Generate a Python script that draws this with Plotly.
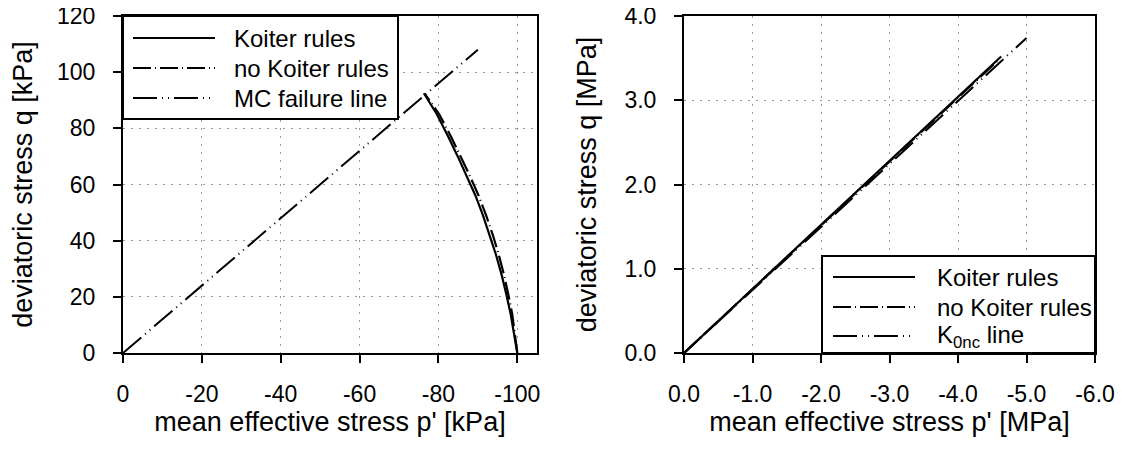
import plotly.graph_objects as go

# ---------------- data (left: kPa) ----------------
koiter_p = [-100, -99.2, -98.3, -97.2, -96.0, -94.6, -93.0, -91.3, -89.4, -87.2, -84.9, -82.5, -79.6, -76.3]
koiter_q = [0, 7, 14, 21, 28, 35, 42, 49, 56, 63, 70, 77, 85, 92.5]
nokoiter_p = [-100, -99.4, -98.7, -97.7, -96.6, -95.3, -93.8, -92.1, -90.2, -88.0, -85.7, -83.2, -80.2, -76.6]
nokoiter_q = [0, 7, 14, 21, 28, 35, 42, 49, 56, 63, 70, 77, 85, 92.2]
mc_p = [0, -90]
mc_q = [0, 108]

# ---------------- data (right: MPa) ----------------
r_koiter_p = [0, -4.63]
r_koiter_q = [0, 3.52]
r_nokoiter_p = [0, -4.58]
r_nokoiter_q = [0, 3.47]
k0_p = [0, -5.0]
k0_q = [0, 3.74]

# ---------------- ticks ----------------
left_xvals = [0, -20, -40, -60, -80, -100]
left_xtext = ["0", "-20", "-40", "-60", "-80", "-100"]
left_yvals = [0, 20, 40, 60, 80, 100, 120]
left_ytext = ["0", "20", "40", "60", "80", "100", "120"]
right_xvals = [0, -1, -2, -3, -4, -5, -6]
right_xtext = ["0.0", "-1.0", "-2.0", "-3.0", "-4.0", "-5.0", "-6.0"]
right_yvals = [0, 1, 2, 3, 4]
right_ytext = ["0.0", "1.0", "2.0", "3.0", "4.0"]

left_legend = ["Koiter rules", "no Koiter rules", "MC failure line"]
right_legend = ["Koiter rules", "no Koiter rules", "K<sub>0nc</sub> line"]

# page body has an 8px margin, so the figure is 8px smaller than the window
OFF = 8
W, H = 1127 - OFF, 450 - OFF
FONT = "Liberation Sans, Arial, sans-serif"
DASH_NK = "18px,4px,1px,4px"
DASH_MC = "24px,5px,1px,5px,1px,5px"
dashes = ["solid", DASH_NK, DASH_MC]

def fx(px):
    return (px - OFF) / W

def fy(py):
    return 1 - (py - OFF) / H

fig = go.Figure()

def add(x, y, xa, ya, dash, width=2.2):
    fig.add_trace(go.Scatter(x=x, y=y, mode="lines", xaxis=xa, yaxis=ya,
                             line=dict(color="black", width=width, dash=dash),
                             showlegend=False, hoverinfo="skip"))

add(mc_p, mc_q, "x", "y", DASH_MC, 2)
add(nokoiter_p, nokoiter_q, "x", "y", DASH_NK, 2.2)
add(koiter_p, koiter_q, "x", "y", "solid", 2.2)
add(k0_p, k0_q, "x2", "y2", DASH_MC, 2)
add(r_nokoiter_p, r_nokoiter_q, "x2", "y2", DASH_NK, 2.2)
add(r_koiter_p, r_koiter_q, "x2", "y2", "solid", 2.2)

top, bottom = 16, 353
L0, L1 = 123, 537
R0, R1 = 684, 1095
ydom = [fy(bottom), fy(top)]
ax_common = dict(showline=True, linecolor="black", linewidth=2, mirror=True,
                 ticks="outside", ticklen=8, tickwidth=2, tickcolor="black",
                 showgrid=True, gridcolor="#9a9a9a", griddash="2px,6px", gridwidth=1,
                 zeroline=False, tickfont=dict(family=FONT, size=23, color="black"),
                 ticklabeloverflow="allow", automargin=False)
title_font = dict(family=FONT, size=27, color="black")

fig.update_layout(
    width=W, height=H, margin=dict(l=0, r=0, t=0, b=0),
    paper_bgcolor="white", plot_bgcolor="white",
    xaxis=dict(domain=[fx(L0), fx(L1)], range=[0, -105], anchor="y",
               tickmode="array", tickvals=left_xvals, ticktext=left_xtext,
               ticklabelstandoff=11,
               title=dict(text="mean effective stress p' [kPa]", font=title_font, standoff=6),
               **ax_common),
    yaxis=dict(domain=ydom, range=[0, 120], anchor="x",
               tickmode="array", tickvals=left_yvals, ticktext=left_ytext,
               ticklabelstandoff=13,
               title=dict(text="deviatoric stress q [kPa]", font=title_font, standoff=20),
               **ax_common),
    xaxis2=dict(domain=[fx(R0), fx(R1)], range=[0, -6], anchor="y2",
                tickmode="array", tickvals=right_xvals, ticktext=right_xtext,
                ticklabelstandoff=11,
                title=dict(text="mean effective stress p' [MPa]", font=title_font, standoff=6),
                **ax_common),
    yaxis2=dict(domain=ydom, range=[0, 4], anchor="x2",
                tickmode="array", tickvals=right_yvals, ticktext=right_ytext,
                ticklabelstandoff=13,
                title=dict(text="deviatoric stress q [MPa]", font=title_font, standoff=20),
                **ax_common),
)

# ---------------- legends (boxed, drawn in axis-domain coordinates) ----------------
def legend(xref, yref, box, line_x, text_x, rows, labels):
    fig.add_shape(type="rect", xref=xref, yref=yref, x0=box[0], x1=box[1], y0=box[2], y1=box[3],
                  line=dict(color="black", width=2), fillcolor="white", layer="above")
    for yy, lab, d in zip(rows, labels, dashes):
        fig.add_shape(type="line", xref=xref, yref=yref, x0=line_x[0], x1=line_x[1], y0=yy, y1=yy,
                      line=dict(color="black", width=2.2, dash=d), layer="above")
        fig.add_annotation(xref=xref, yref=yref, x=text_x, y=yy, text=lab, showarrow=False,
                           xanchor="left", yanchor="middle",
                           font=dict(family=FONT, size=24, color="black"))

lw, lh = L1 - L0, bottom - top
legend("x domain", "y domain",
       [0, (398 - L0) / lw, 1 - (119 - top) / lh, 1],
       [(133 - L0) / lw, (215 - L0) / lw], (232 - L0) / lw,
       [1 - (38 - top) / lh, 1 - (68 - top) / lh, 1 - (98 - top) / lh], left_legend)

rw = R1 - R0
legend("x2 domain", "y2 domain",
       [(822 - R0) / rw, 1, 0, 1 - (256 - top) / lh],
       [(833 - R0) / rw, (915 - R0) / rw], (935 - R0) / rw,
       [1 - (277 - top) / lh, 1 - (307 - top) / lh, 1 - (336 - top) / lh], right_legend)

fig.write_html("out.html")
